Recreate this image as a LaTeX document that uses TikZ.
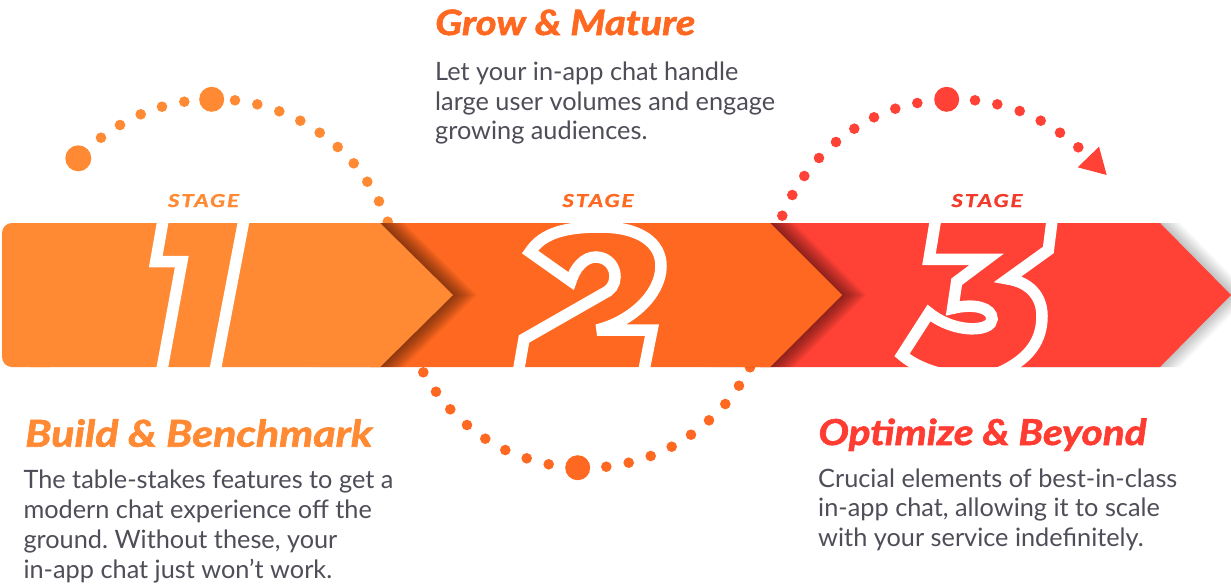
\documentclass[tikz,border=0pt]{standalone}
\usepackage{fontspec}
\usepackage{graphicx}
\newfontfamily\bodyfont{Lato}
\newfontfamily\headfont{Lato}[BoldItalicFeatures={FakeBold=1.6}]
\newfontfamily\stagefont{Lato}[LetterSpace=8,BoldItalicFeatures={FakeBold=1.2}]
\definecolor{segA}{HTML}{FF8A33}
\definecolor{segB}{HTML}{FF6820}
\definecolor{segC}{HTML}{FF4136}
\definecolor{redhead}{HTML}{FF3C31}
\definecolor{stageC}{HTML}{F23B2B}
\definecolor{bodytxt}{HTML}{4E4E58}
\frenchspacing
\begin{document}
\begin{tikzpicture}[x=1pt,y=-1pt,
  bodyline/.style={anchor=base west, inner sep=0pt, text=bodytxt, font=\bodyfont\fontsize{25.3}{30}\selectfont},
  headline/.style={anchor=base west, inner sep=0pt, font=\headfont\bfseries\itshape},
  stagelbl/.style={anchor=base, inner sep=0pt, font=\stagefont\bfseries\itshape},
  digitline/.style={draw=white, line width=11.5pt, line join=miter, miter limit=4},
]
\useasboundingbox (0,0) rectangle (1231,584);
\fill[white] (0,0) rectangle (1231,584);

% dotted arcs (behind the band)
\foreach \x/\y in {101/137.7,120/125,140.7/114.3,162/106.7,184.3/101.7,235/100.3,257.3/104.3,279.3/111.3,300.3/120.7,319.7/132.7,337.7/147,353.7/163.3,367.3/181.7,379/201.3,387.7/221.7}
  \fill[segA] (\x,\y) circle[radius=5.3];
\fill[segA] (78.3,158.3) circle[radius=13];
\fill[segA] (211.7,99.3) circle[radius=12.5];
\foreach \x/\y in {423.3/372.3,436/391.7,450.3/409.3,467/425,485.3/438.7,505.3/450,526.7/458.3,548.7/464.3,606.3/466.7,628.7/462.7,650.7/456,671.7/446.7,691/434.7,709/420.3,725.3/404,739/385.7,750/367.3}
  \fill[segB] (\x,\y) circle[radius=5.3];
\fill[segB] (577.7,467.7) circle[radius=12.5];
\foreach \x/\y in {782.3/215.7,792.3/195,804.3/176,819/158,836/142,854.3/128.7,874/117.3,895.3/108.7,917.3/103,975/100.3,997.3/104.3,1019.7/111,1040.7/120.7,1060/132.7,1078.3/147.3}
  \fill[segC] (\x,\y) circle[radius=5.3];
\fill[segC] (946.7,99.3) circle[radius=12.5];
\fill[segC] (1099,146.7) -- (1106.7,175) -- (1077.7,167.3) -- cycle;

% band: segment 3 with its grey drop shadow
\foreach \k in {2,4,...,20}
  \fill[black, opacity=0.022] (1000+\k,223) -- (1160+\k,223) -- (1231+\k,295) -- (1160+\k,367) -- (1000+\k,367) -- cycle;
\fill[segC] (760,223) -- (1160,223) -- (1231,295) -- (1160,367) -- (760,367) -- cycle;
% segment 2 and its shadow on segment 3
\foreach \k in {2,4,...,24}
  \fill[black, opacity=0.045] (700+\k,223) -- (770+\k,223) -- (842+\k,295) -- (770+\k,367) -- (700+\k,367) -- cycle;
\fill[segB] (370,223) -- (770,223) -- (842,295) -- (770,367) -- (370,367) -- cycle;
% segment 1 and its shadow on segment 2
\foreach \k in {2,4,...,24}
  \fill[black, opacity=0.045] (300+\k,223) -- (380+\k,223) -- (453+\k,295) -- (380+\k,367) -- (300+\k,367) -- cycle;
\fill[segA, rounded corners=10pt] (2,223) rectangle (60,367);
\fill[segA] (30,223) -- (380,223) -- (453,295) -- (380,367) -- (30,367) -- cycle;

% outlined digits
\begin{scope}
\clip (0,223) rectangle (1231,367);
\draw[digitline] (165.7,205) -- (155.8,261.5) -- (181.8,261.5) -- (159.1,385) -- (212.3,385) -- (246.8,205) -- cycle;
\draw[digitline] (530,252) .. controls (543,232) and (568,227) .. (600,227)
  .. controls (640,227) and (661,243) .. (661,266)
  .. controls (661,295) and (630,322) .. (597,330) -- (652,330) -- (641,385) -- (516,385) -- (524,339) -- (608,291)
  .. controls (620,283) and (617,258) .. (596,257)
  .. controls (584,257) and (575,268) .. (571,281) -- cycle;
\draw[digitline] (938,205) -- (929,259.3) -- (986.7,259.3) -- (956.7,281.7) -- (952.7,308.3)
  .. controls (975,303) and (992,308) .. (992,319)
  .. controls (992,332) and (955,334) .. (929,313) -- (902,355)
  .. controls (925,375) and (975,385) .. (1005,370)
  .. controls (1030,357) and (1042,340) .. (1042,316)
  .. controls (1042,295) and (1028,282) .. (1008,279) -- (1048.3,250) -- (1054,205) -- cycle;
\end{scope}

% stage labels
\node[stagelbl, text=segA] (stageA) at (203.5,207) {\resizebox{71pt}{13pt}{STAGE}};
\node[stagelbl, text=segB] (stageB) at (598,207) {\resizebox{71pt}{13pt}{STAGE}};
\node[stagelbl, text=stageC] (stageC) at (987,207) {\resizebox{71pt}{13pt}{STAGE}};

% headings
\node[headline, text=segA] (headA) at (25,446.7) {\resizebox{347pt}{27.5pt}{Build \& Benchmark}};
\node[headline, text=segB] (headB) at (435,35) {\resizebox{260pt}{25.5pt}{Grow \& Mature}};
\node[headline, text=redhead] (headC) at (818.3,445) {\resizebox{328pt}{26.5pt}{Optimize \& Beyond}};

% body texts
\node[bodyline] (a1) at (23.3,488.3) {The table-stakes features to get a};
\node[bodyline] (a2) at (23.3,518.3) {modern chat experience off the};
\node[bodyline] (a3) at (23.3,548.3) {ground. Without these, your};
\node[bodyline] (a4) at (23.3,578.3) {in-app chat just won’t work.};
\node[bodyline] (b1) at (435,80) {Let your in-app chat handle};
\node[bodyline] (b2) at (435,110) {large user volumes and engage};
\node[bodyline] (b3) at (435,139) {growing audiences.};
\node[bodyline] (c1) at (818,487.3) {Crucial elements of best-in-class};
\node[bodyline] (c2) at (818,516.7) {in-app chat, allowing it to scale};
\node[bodyline] (c3) at (818,546.7) {with your service indefinitely.};
\end{tikzpicture}
\end{document}
